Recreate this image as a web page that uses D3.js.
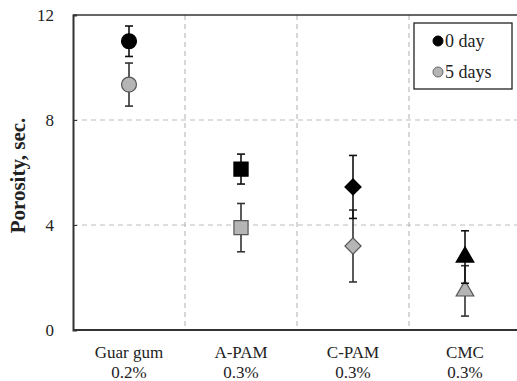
<!DOCTYPE html>
<html lang="en">
<head>
<meta charset="utf-8">
<title>Porosity</title>
<script src="https://cdn.jsdelivr.net/npm/d3@7"></script>
<style>
  body { margin: 0; background: #fff; }
  text { font-family: "Liberation Serif", "Times New Roman", serif; fill: #222; }
</style>
</head>
<body>
<script>
// data
var categories = ["Guar gum", "A-PAM", "C-PAM", "CMC"];
var concentrations = ["0.2%", "0.3%", "0.3%", "0.3%"];
var shapes = ["circle", "square", "diamond", "triangle"];
var day0 = [11.0, 6.13, 5.45, 2.78];
var day0Err = [0.58, 0.57, 1.2, 1.0];
var day5 = [9.35, 3.9, 3.2, 1.49];
var day5Err = [0.82, 0.92, 1.37, 0.96];
var yTicks = [0, 4, 8, 12];
var seriesNames = ["0 day", "5 days"];

var w = 517, h = 381;
var plotLeft = 73, plotTop = 15, plotBottom = 330, plotRight = 521;

var svg = d3.select("body").append("svg")
  .attr("width", w).attr("height", h);

var x = d3.scaleBand().domain(categories).range([plotLeft, plotRight]);
var y = d3.scaleLinear().domain([0, 12]).range([plotBottom, plotTop]);

// grid
svg.selectAll(".hgrid").data([4, 8]).enter().append("line")
  .attr("x1", plotLeft).attr("x2", plotRight)
  .attr("y1", function(d) { return y(d); }).attr("y2", function(d) { return y(d); })
  .attr("stroke", "#bdbdbd").attr("stroke-width", 1.2).attr("stroke-dasharray", "5,4");
svg.selectAll(".vgrid").data(categories.slice(1)).enter().append("line")
  .attr("x1", function(d) { return x(d); }).attr("x2", function(d) { return x(d); })
  .attr("y1", plotTop).attr("y2", plotBottom)
  .attr("stroke", "#bdbdbd").attr("stroke-width", 1.2).attr("stroke-dasharray", "5,4");

// frame: top line, left axis, bottom axis
svg.append("line").attr("x1", plotLeft).attr("x2", w).attr("y1", plotTop).attr("y2", plotTop)
  .attr("stroke", "#333").attr("stroke-width", 1.5);

var yAxis = d3.axisLeft(y).tickValues(yTicks).tickSize(-4).tickPadding(19);
svg.append("g").attr("transform", "translate(" + plotLeft + ",0)").call(yAxis)
  .call(function(g) {
    g.select(".domain").attr("stroke", "#333").attr("stroke-width", 2);
    g.selectAll(".tick line").attr("stroke", "#333");
    g.selectAll("text").attr("font-size", 17).attr("fill", "#333")
      .attr("font-family", "'Liberation Serif', serif");
  });

svg.append("line").attr("x1", plotLeft).attr("x2", w).attr("y1", plotBottom).attr("y2", plotBottom)
  .attr("stroke", "#333").attr("stroke-width", 2);

// x labels
var cx = function(i) { return x(categories[i]) + x.bandwidth() / 2; };
categories.forEach(function(c, i) {
  var t = svg.append("text").attr("text-anchor", "middle").attr("font-size", 17);
  t.append("tspan").attr("x", cx(i)).attr("y", 358).text(c);
  t.append("tspan").attr("x", cx(i)).attr("y", 378).text(concentrations[i]);
});

// y title
svg.append("text")
  .attr("transform", "translate(25," + ((plotTop + plotBottom) / 2 + 3) + ") rotate(-90)")
  .attr("text-anchor", "middle").attr("font-size", 21).attr("font-weight", "bold")
  .text("Porosity, sec.");

var symbolTypes = {
  circle: [d3.symbolCircle, 175, 0],
  square: [d3.symbolSquare, 200, 0],
  diamond: [d3.symbolSquare, 130, 45],
  triangle: [d3.symbolTriangle, 135, 0]
};

function drawSeries(vals, errs, fill, stroke, barColor) {
  vals.forEach(function(v, i) {
    var px = cx(i);
    var g = svg.append("g");
    g.append("line").attr("x1", px).attr("x2", px)
      .attr("y1", y(v - errs[i])).attr("y2", y(v + errs[i]))
      .attr("stroke", barColor).attr("stroke-width", 1.6);
    [v - errs[i], v + errs[i]].forEach(function(e) {
      g.append("line").attr("x1", px - 4).attr("x2", px + 4)
        .attr("y1", y(e)).attr("y2", y(e))
        .attr("stroke", barColor).attr("stroke-width", 1.6);
    });
    var s = symbolTypes[shapes[i]];
    g.append("path").attr("d", d3.symbol().type(s[0]).size(s[1])())
      .attr("transform", "translate(" + px + "," + y(v) + ") rotate(" + s[2] + ")")
      .attr("fill", fill).attr("stroke", stroke).attr("stroke-width", 1.2);
  });
}

drawSeries(day5, day5Err, "#b5b5b5", "#555", "#333");
drawSeries(day0, day0Err, "#000", "#000", "#111");

// legend
var lg = svg.append("g");
lg.append("rect").attr("x", 414).attr("y", 23).attr("width", 98).attr("height", 66)
  .attr("fill", "#fff").attr("stroke", "#222").attr("stroke-width", 1.3);
var legendFill = ["#000", "#b5b5b5"];
var legendStroke = ["#000", "#666"];
seriesNames.forEach(function(n, i) {
  var yy = 41 + i * 31;
  lg.append("circle").attr("cx", 438).attr("cy", yy).attr("r", 5)
    .attr("fill", legendFill[i]).attr("stroke", legendStroke[i]);
  lg.append("text").attr("x", 445).attr("y", yy + 6).attr("font-size", 18).text(n);
});
</script>
</body>
</html>
